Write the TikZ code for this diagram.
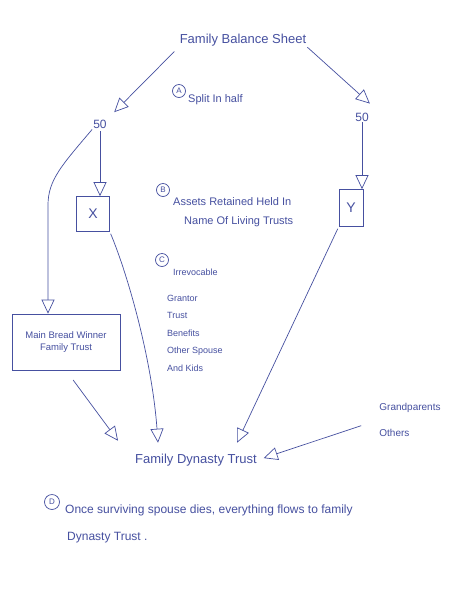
\documentclass[tikz,border=0pt]{standalone}
\usepackage{fontspec}
\setmainfont{Liberation Sans}
\usetikzlibrary{arrows.meta}
\definecolor{ink}{RGB}{70,80,160}

\begin{document}
\begin{tikzpicture}[x=1pt,y=-1pt]
\tikzset{inkline/.style={draw=ink, line width=0.7pt, -{Triangle[open,length=14pt,width=13pt]}},
  txt/.style={text=ink, inner sep=1pt},
  box/.style={draw=ink, line width=0.7pt, text=ink},
  letter/.style={draw=ink, circle, line width=0.7pt, minimum size=13pt, inner sep=0pt, text=ink, font=\fontsize{8}{9}\selectfont}}
\useasboundingbox (0,0) rectangle (462,598);
\fill[white] (0,0) rectangle (462,598);
% top of the tree
\node[txt, font=\fontsize{13}{15}\selectfont] (BS) at (243,40) {Family Balance Sheet};
\node[txt, font=\fontsize{12}{14}\selectfont] (L50) at (100,124) {50};
\node[txt, font=\fontsize{12}{14}\selectfont] (R50) at (362,117) {50};
\node[box, minimum width=33pt, minimum height=35pt, font=\fontsize{14}{16}\selectfont] (X) at (93,214) {X};
\node[box, minimum width=24pt, minimum height=37pt, font=\fontsize{14}{16}\selectfont] (Y) at (351,208) {Y};
\node[box, minimum width=108pt, minimum height=56pt, align=center, font=\fontsize{9.5}{12}\selectfont] (MBW) at (66,342) {Main Bread Winner\\Family Trust};
\node[txt, font=\fontsize{13}{15}\selectfont] (FDT) at (196,460) {Family Dynasty Trust};
\node[txt, align=left, font=\fontsize{10}{26}\selectfont] (GP) at (410,420) {Grandparents\\Others};
% notes
\node[letter] (A) at (179,91) {A};
\node[txt, anchor=west, font=\fontsize{11}{13}\selectfont] (SH) at (187,100) {Split In half};
\node[letter] (B) at (163,190) {B};
\node[txt, anchor=west, font=\fontsize{11}{13}\selectfont] (AR) at (172,202) {Assets Retained Held In};
\node[txt, anchor=west, font=\fontsize{11}{13}\selectfont] (NL) at (183,222) {Name Of Living Trusts};
\node[letter] (C) at (162,260) {C};
\node[txt, anchor=west, font=\fontsize{9}{11}\selectfont] (IR) at (172,272) {Irrevocable};
\node[txt, anchor=north west, align=left, font=\fontsize{9}{17.5}\selectfont] (GT) at (166,294) {Grantor\\Trust\\Benefits\\Other Spouse\\And Kids};
\node[letter, minimum size=15pt] (D) at (52,502) {D};
\node[txt, anchor=west, font=\fontsize{12}{14}\selectfont] (OS) at (64,510) {Once surviving spouse dies, everything flows to family};
\node[txt, anchor=west, font=\fontsize{12}{14}\selectfont] (DT) at (66,538) {Dynasty Trust .};
% arrows
\draw[inkline, shorten <=6pt, shorten >=9pt] (BS.south west) -- (L50.north east);
\draw[inkline] (BS.south east) -- ([yshift=8pt]R50.north east);
\draw[inkline, shorten <=2pt] (L50.south) -- (L50.south |- X.north);
\draw[inkline] (L50.south west) .. controls (62,165) and (48,180) .. (48,205) -- (48,205 |- MBW.north);
\draw[inkline] (R50.south) -- (R50.south |- Y.north);
\draw[inkline, shorten <=12pt] (MBW.south) -- ([xshift=-16pt,yshift=12pt]FDT.north west);
\draw[inkline, shorten <=2pt] (X.south east) .. controls (128,275) and (152,360) .. ([xshift=-38pt,yshift=10pt]FDT.north);
\draw[inkline, shorten <=2pt] (Y.south west) -- ([xshift=41pt,yshift=10pt]FDT.north);
\draw[inkline, shorten <=18pt, shorten >=6pt] (GP.west) -- (FDT.east);
\end{tikzpicture}
\end{document}
